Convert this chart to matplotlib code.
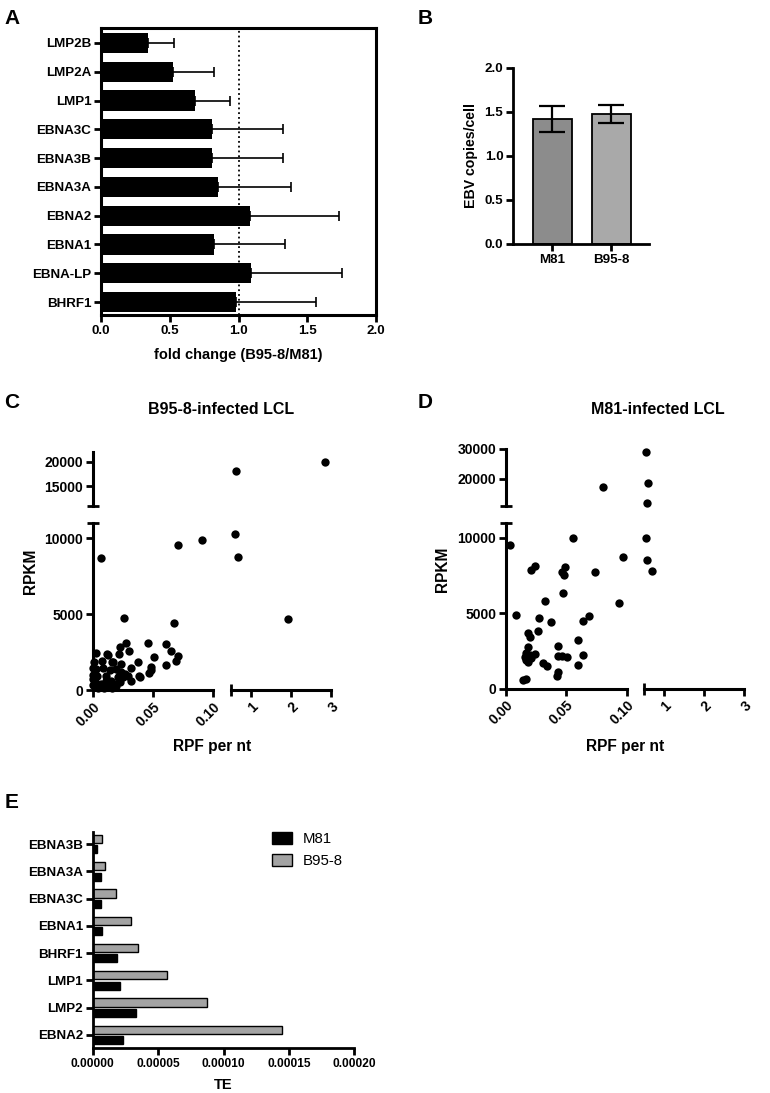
import numpy as np
import matplotlib
matplotlib.use('Agg')
import matplotlib.pyplot as plt
from matplotlib.ticker import FixedLocator, FormatStrFormatter

plt.rcParams['font.family'] = ['Liberation Sans', 'DejaVu Sans']
plt.rcParams['font.weight'] = 'bold'
plt.rcParams['axes.labelweight'] = 'bold'
plt.rcParams['axes.linewidth'] = 2.0

# ---- data ----
# A: fold change B95-8/M81
genes_A = ['LMP2B', 'LMP2A', 'LMP1', 'EBNA3C', 'EBNA3B', 'EBNA3A', 'EBNA2', 'EBNA1', 'EBNA-LP', 'BHRF1']
fold_A = [0.34, 0.52, 0.68, 0.81, 0.81, 0.85, 1.08, 0.82, 1.09, 0.98]
sd_A = [0.19, 0.30, 0.26, 0.51, 0.51, 0.53, 0.65, 0.52, 0.66, 0.58]

# B: EBV copies per cell
strains_B = ['M81', 'B95-8']
copies_B = [1.42, 1.48]
sd_B = [0.15, 0.105]

# C: B95-8-infected LCL (RPF per nt, RPKM)
rpf_C = [0.625, 2.85, 0.0067, 0.0706, 0.0908, 0.59, 0.68, 1.92, 0.0261, 0.0672,
         0.0272, 0.046, 0.0605, 0.0225, 0.030, 0.012, 0.0025, 0.065, 0.071, 0.051,
         0.022, 0.0158, 0.0236, 0.0375, 0.069, 0.061, 0.001, 0.0072, 0.032, 0.0486,
         0.047, 0.038, 0.032, 0.0, 0.0, 0.0028, 0.0083, 0.0139, 0.0194, 0.0236,
         0.025, 0.0222, 0.018, 0.0125, 0.0069, 0.0028, 0.0, 0.0014, 0.011, 0.0153,
         0.0208, 0.0, 0.006, 0.013, 0.019, 0.0264, 0.029, 0.0225, 0.017, 0.0128,
         0.048, 0.039, 0.004, 0.009, 0.016, 0.0035, 0.0105]
rpkm_C = [18180, 20000, 8720, 9580, 9860, 10300, 8780, 4650, 4720, 4390,
          3090, 3090, 3045, 2850, 2580, 2380, 2450, 2540, 2270, 2200,
          2360, 1870, 1700, 1830, 1940, 1650, 1870, 1940, 1440, 1500,
          1150, 930, 600, 1450, 1000, 1390, 1460, 1320, 1390, 1170,
          835, 510, 400, 355, 400, 445, 725, 1060, 620, 620,
          835, 300, 250, 200, 250, 1060, 900, 1150, 1870, 2320,
          1320, 860, 150, 120, 150, 900, 950]

# D: M81-infected LCL
rpf_D = [0.535, 0.59, 0.57, 0.0806, 0.535, 0.57, 0.68, 0.0967, 0.094, 0.0558,
         0.0033, 0.0206, 0.0242, 0.0464, 0.0486, 0.0478, 0.0736, 0.0469, 0.0322, 0.0083,
         0.0275, 0.0369, 0.0642, 0.0686, 0.0183, 0.0198, 0.0267, 0.0183, 0.0433, 0.0594,
         0.0169, 0.0198, 0.0239, 0.0169, 0.0183, 0.0433, 0.0461, 0.0503, 0.0642, 0.0308,
         0.0336, 0.06, 0.0433, 0.0419, 0.0142, 0.0169, 0.021, 0.016]
rpkm_D = [29070, 18640, 12020, 17270, 10000, 8540, 7770, 8740, 5690, 10000,
          9510, 7860, 8120, 7750, 8080, 7530, 7710, 6320, 5830, 4880,
          4660, 4420, 4500, 4810, 3670, 3440, 3840, 2780, 2830, 3220,
          2340, 2230, 2280, 1900, 1790, 2180, 2160, 2120, 2230, 1680,
          1500, 1570, 1130, 840, 580, 620, 2030, 2100]

# E: translational efficiency
genes_E = ['EBNA3B', 'EBNA3A', 'EBNA3C', 'EBNA1', 'BHRF1', 'LMP1', 'LMP2', 'EBNA2']
te_M81 = [3.6e-6, 6.1e-6, 6.4e-6, 6.9e-6, 1.83e-5, 2.09e-5, 3.29e-5, 2.34e-5]
te_B958 = [7.4e-6, 9.4e-6, 1.78e-5, 2.93e-5, 3.44e-5, 5.66e-5, 8.71e-5, 1.447e-4]

W, H = 770, 1093
fig = plt.figure(figsize=(7.7, 10.93), dpi=100)


def box(x0, y0, x1, y1):
    # pixel box -> axes
    return fig.add_axes([x0 / W, 1 - y1 / H, (x1 - x0) / W, (y1 - y0) / H])


def ftext(x, y, s, **kw):
    fig.text(x / W, 1 - y / H, s, **kw)


TICK = dict(direction='out', length=5, width=2, labelsize=9.6, pad=2)

# ---- panel labels ----
for lab, x, y in [('A', 12, 18), ('B', 425, 18), ('C', 12, 403), ('D', 425, 403), ('E', 12, 802)]:
    ftext(x, y, lab, fontsize=15, fontweight='bold', ha='center', va='center')

# ---- A ----
axA = box(101, 28, 376, 315)
yA = np.arange(len(genes_A))[::-1]
axA.barh(yA, fold_A, height=0.7, color='black',
         xerr=[np.zeros(len(sd_A)), sd_A],
         error_kw=dict(ecolor='black', elinewidth=1.2, capsize=3.5, capthick=1.2))
axA.axvline(1.0, color='black', ls=':', lw=1.3, zorder=0)
axA.set_xlim(0, 2.0)
axA.set_ylim(-0.45, 9.52)
axA.set_yticks(yA)
axA.set_yticklabels(genes_A)
axA.set_xticks([0, 0.5, 1.0, 1.5, 2.0])
axA.xaxis.set_major_formatter(FormatStrFormatter('%.1f'))
axA.tick_params(**TICK)
for sp in axA.spines.values():
    sp.set_linewidth(2.2)
axA.set_xlabel('fold change (B95-8/M81)', fontsize=10.5, labelpad=8)

# ---- B ----
axB = box(513, 68, 649, 244)
axB.bar([0, 1], copies_B, width=0.66, color=['#8c8c8c', '#a9a9a9'], edgecolor='black', lw=1.3,
        yerr=sd_B, error_kw=dict(ecolor='black', elinewidth=1.6, capsize=9.5, capthick=1.6))
axB.set_xlim(-0.66, 1.64)
axB.set_ylim(0, 2.0)
axB.set_xticks([0, 1])
axB.set_xticklabels(strains_B)
axB.set_yticks([0, 0.5, 1.0, 1.5, 2.0])
axB.yaxis.set_major_formatter(FormatStrFormatter('%.1f'))
axB.spines['top'].set_visible(False)
axB.spines['right'].set_visible(False)
axB.tick_params(**TICK)
axB.set_ylabel('EBV copies/cell', fontsize=10.2, labelpad=5)


# ---- C / D : broken-axis scatter ----
def broken_scatter(xs, ys, xl, xr, yt, yb, top_lim, top_ticks, title, tpos, ylab_x, xlab_x):
    xs = np.asarray(xs)
    ys = np.asarray(ys)
    brk = 11000
    bl = box(xl[0], yb[0], xl[1], yb[1])
    br = box(xr[0], yb[0], xr[1], yb[1])
    tl = box(xl[0], yt[0], xl[1], yt[1])
    tr = box(xr[0], yt[0], xr[1], yt[1])
    left = xs <= 0.1
    low = ys <= brk
    for ax, m in [(bl, left & low), (br, ~left & low), (tl, left & ~low), (tr, ~left & ~low)]:
        ax.patch.set_visible(False)
        ax.scatter(xs[m], ys[m], s=36, color='black', clip_on=False, zorder=3, lw=0)
        for sp in ax.spines.values():
            sp.set_visible(False)
            sp.set_linewidth(2.2)
        ax.tick_params(**TICK)
        ax.tick_params(labelsize=10)
        ax.tick_params(which='minor', direction='inout', length=9, width=2)
    for ax in (bl, tl):
        ax.set_xlim(0, 0.1)
    for ax in (br, tr):
        ax.set_xlim(0.5, 3)
    for ax in (bl, br):
        ax.set_ylim(0, brk)
    for ax in (tl, tr):
        ax.set_ylim(brk, top_lim)
    # bottom-left
    bl.spines['left'].set_visible(True)
    bl.spines['bottom'].set_visible(True)
    bl.set_xticks([0, 0.05, 0.10])
    bl.xaxis.set_major_formatter(FormatStrFormatter('%.2f'))
    bl.xaxis.set_minor_locator(FixedLocator([0.10]))
    bl.set_yticks([0, 5000, 10000])
    bl.yaxis.set_minor_locator(FixedLocator([brk]))
    # bottom-right
    br.spines['bottom'].set_visible(True)
    br.set_xticks([1, 2, 3])
    br.xaxis.set_major_formatter(FormatStrFormatter('%d'))
    br.xaxis.set_minor_locator(FixedLocator([0.5]))
    br.set_yticks([])
    # top-left
    tl.spines['left'].set_visible(True)
    tl.set_xticks([])
    tl.set_yticks(top_ticks)
    tl.yaxis.set_minor_locator(FixedLocator([brk]))
    tr.set_xticks([])
    tr.set_yticks([])
    for ax in (bl, br):
        plt.setp(ax.get_xticklabels(), rotation=45, ha='right', rotation_mode='anchor')
    ftext(tpos[0], tpos[1], title, fontsize=11.5, fontweight='bold', ha='center', va='center')
    ftext(ylab_x, (yt[0] + yb[1]) / 2, 'RPKM', fontsize=11.2, fontweight='bold',
          rotation=90, ha='center', va='center')
    ftext(xlab_x, 747, 'RPF per nt', fontsize=11.2, fontweight='bold', ha='center', va='center')


broken_scatter(rpf_C, rpkm_C, (93, 213), (231, 331), (452, 506), (523, 690),
               22000, [15000, 20000], 'B95-8-infected LCL', (221, 410), 30, 212)
broken_scatter(rpf_D, rpkm_D, (506, 626.7), (644.3, 744.3), (449, 505.7), (522.7, 688.7),
               30000, [20000, 30000], 'M81-infected LCL', (658, 410), 443, 625)

# ---- E ----
axE = box(92.7, 831.7, 354.3, 1048.3)
yE = np.arange(len(genes_E))[::-1]
axE.barh(yE - 0.19, te_M81, height=0.3, color='black', edgecolor='black', lw=1, label='M81')
axE.barh(yE + 0.19, te_B958, height=0.3, color='#a3a3a3', edgecolor='black', lw=1, label='B95-8')
axE.set_xlim(0, 0.0002)
axE.set_ylim(-0.49, 7.46)
axE.set_yticks(yE)
axE.set_yticklabels(genes_E)
axE.set_xticks([0, 0.00005, 0.0001, 0.00015, 0.0002])
axE.xaxis.set_major_formatter(FormatStrFormatter('%.5f'))
axE.spines['top'].set_visible(False)
axE.spines['right'].set_visible(False)
axE.tick_params(**TICK)
axE.tick_params(axis='x', labelsize=8.6)
axE.set_xlabel('TE', fontsize=10.5, labelpad=6)
axE.legend(loc='upper left', bbox_to_anchor=(272 / W, 1 - 832 / H), bbox_transform=fig.transFigure,
           frameon=False, prop=dict(size=10.8, weight='normal'), handlelength=1.35, handleheight=0.8,
           labelspacing=0.55, handletextpad=0.7, borderaxespad=0, borderpad=0)

fig.savefig('out.png', dpi=100)
